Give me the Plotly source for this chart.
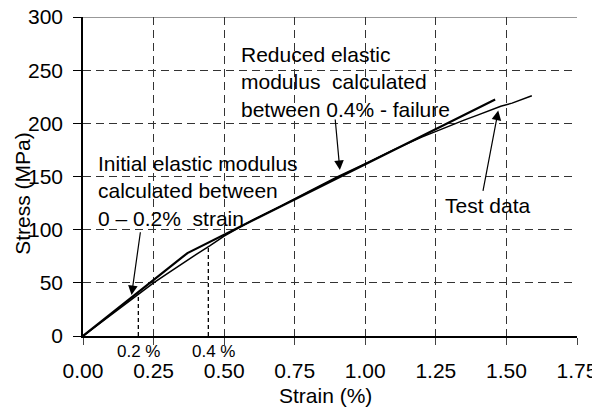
import plotly.graph_objects as go

# test curve (strain %, stress MPa)
test_strain = [0, 0.05, 0.10, 0.15, 0.20, 0.25, 0.30, 0.35, 0.40, 0.45, 0.50, 0.60, 0.70,
               0.80, 0.90, 1.00, 1.10, 1.20, 1.25, 1.30, 1.35, 1.40, 1.45, 1.48, 1.52, 1.56, 1.59]
test_stress = [0, 10, 20.5, 30.5, 40.5, 50, 59, 68, 76.5, 85, 94, 109, 122,
               136, 149.5, 162, 175, 187, 192.5, 198, 203, 208, 213, 216, 219, 223, 226]

# bilinear fit: initial modulus then reduced modulus
fit_strain = [0, 0.37, 1.46]
fit_stress = [0, 78, 222.5]

# dotted markers at 0.2 % and 0.4 % strain
mark_strain = [0.196, 0.444]
mark_stress = [40, 84]
mark_labels = ["0.2 %", "0.4 %"]

x_ticks = [0, 0.25, 0.5, 0.75, 1.0, 1.25, 1.5, 1.75]
y_ticks = [0, 50, 100, 150, 200, 250, 300]

FONT = "Liberation Sans, Arial, sans-serif"

fig = go.Figure()

for xs, ys in zip(mark_strain, mark_stress):
    fig.add_trace(go.Scatter(x=[xs, xs], y=[0, ys], mode="lines",
                             line=dict(color="black", width=1.3, dash="4px,3px"),
                             hoverinfo="skip"))

fig.add_trace(go.Scatter(x=test_strain, y=test_stress, mode="lines",
                         line=dict(color="black", width=1.5), name="Test data"))
fig.add_trace(go.Scatter(x=fit_strain, y=fit_stress, mode="lines",
                         line=dict(color="black", width=2.2), name="Fit"))

# frame line along the top
fig.add_shape(type="line", xref="x domain", yref="y", x0=0, x1=1, y0=300, y1=300,
              line=dict(color="#333", width=1.2))

annots = [
    dict(x=0.204, y=99, ax=0.172, ay=38.5,
         text="Initial elastic modulus<br>calculated between<br>0 – 0.2%  strain",
         tx=0.046, ty=136),
    dict(x=0.893, y=205, ax=0.91, ay=156,
         text="Reduced elastic<br>modulus  calculated<br>between 0.4% - failure",
         tx=0.553, ty=239),
    dict(x=1.416, y=135, ax=1.471, ay=212,
         text="Test data", tx=1.276, ty=123),
]
for a in annots:
    # arrow: drawn from tail to head
    fig.add_annotation(x=a["ax"], y=a["ay"], ax=a["x"], ay=a["y"],
                       xref="x", yref="y", axref="x", ayref="y",
                       text="", showarrow=True, arrowhead=2, arrowsize=1.6,
                       arrowwidth=1.2, arrowcolor="black", standoff=0)
    fig.add_annotation(x=a["tx"], y=a["ty"], xref="x", yref="y", text=a["text"],
                       showarrow=False, xanchor="left", yanchor="middle", align="left",
                       font=dict(family=FONT, size=21, color="black"))

for xs, lab, dx in zip(mark_strain, mark_labels, [0, 5]):
    fig.add_annotation(x=xs, y=0, xref="x", yref="y", text=lab, showarrow=False,
                       yshift=-15, xshift=dx,
                       font=dict(family=FONT, size=17, color="black"))

fig.add_annotation(x=0.49, y=-0.185, xref="x domain", yref="y domain", text="Strain (%)",
                   xanchor="center", yanchor="middle", showarrow=False,
                   font=dict(family=FONT, size=21, color="black"))
fig.add_annotation(x=-0.124, y=0.448, xref="x domain", yref="y domain", text="Stress (MPa)",
                   xanchor="center", yanchor="middle", showarrow=False, textangle=-90,
                   font=dict(family=FONT, size=21, color="black"))

fig.update_xaxes(range=[0, 1.75], tickvals=x_ticks,
                 ticktext=[f"{v:.2f}" for v in x_ticks],
                 showgrid=True, gridcolor="#333", griddash="8px,5px", gridwidth=1,
                 ticks="outside", ticklen=7, tickcolor="#444", tickwidth=1,
                 showline=True, linecolor="black", linewidth=1.5,
                 zeroline=False, ticklabelstandoff=8, automargin=False,
                 ticklabeloverflow="allow",
                 tickfont=dict(family=FONT, size=21, color="black"))
fig.update_yaxes(range=[0, 300], tickvals=y_ticks,
                 showgrid=True, gridcolor="#333", griddash="8px,5px", gridwidth=1,
                 ticks="outside", ticklen=8, tickcolor="black", tickwidth=1,
                 showline=True, linecolor="black", linewidth=1.5,
                 zeroline=False, ticklabelstandoff=6, automargin=False,
                 ticklabeloverflow="allow",
                 tickfont=dict(family=FONT, size=21, color="black"))

# the page body adds an 8px margin, so the figure is sized to fit inside the window
fig.update_layout(width=592, height=399, margin=dict(l=75, r=23, t=9, b=71),
                  plot_bgcolor="white", paper_bgcolor="white", showlegend=False)

fig.write_html("out.html", default_width="592px", default_height="399px")
